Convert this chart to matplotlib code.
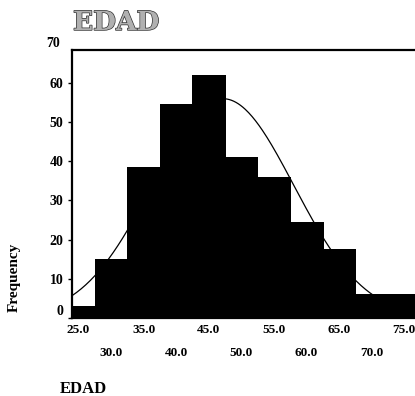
import numpy as np
import matplotlib
matplotlib.use("Agg")
import matplotlib.pyplot as plt
from matplotlib import patheffects as pe
from matplotlib.transforms import ScaledTranslation

# Data
bin_centers = [25, 30, 35, 40, 45, 50, 55, 60, 65, 70, 75]
frequencies = [3, 15, 38.5, 54.5, 62, 41, 36, 24.5, 17.5, 6, 6]
bin_width = 5
curve_mean = 47.2
curve_std = 10.85
n_total = sum(frequencies)
y_ticks = [0, 10, 20, 30, 40, 50, 60]
x_ticks_row1 = [25, 35, 45, 55, 65, 75]
x_ticks_row2 = [30, 40, 50, 60, 70]

fig = plt.figure(figsize=(4.15, 3.96), dpi=100)
ax = fig.add_axes([72/415, 78/396, 343/415, 268/396])

ax.bar(bin_centers, frequencies, width=bin_width, color="black",
       edgecolor="black", linewidth=0.6, antialiased=False, zorder=2)

xs = np.linspace(24, 76.7, 300)
peak = n_total * bin_width / (curve_std * np.sqrt(2 * np.pi))
ys = peak * np.exp(-0.5 * ((xs - curve_mean) / curve_std) ** 2)
ax.plot(xs, ys, color="black", lw=0.9, zorder=3)

ax.set_xlim(24, 76.7)
ax.set_ylim(0, 68.3)

for s in ["left", "top", "bottom"]:
    ax.spines[s].set_linewidth(1.6)
ax.spines["right"].set_visible(False)

ytick_font = dict(family="Liberation Serif", weight="bold", size=10)
xtick_font = dict(family="Liberation Serif", weight="bold", size=9.5)
ax.set_yticks(y_ticks)
ax.set_yticklabels([str(v) for v in y_ticks], **ytick_font)
ax.tick_params(axis="y", direction="out", length=3, width=1, pad=3)
ax.text(-0.035, 70, "70", transform=ax.get_yaxis_transform(),
        ha="right", va="center", clip_on=False, **ytick_font)

# the "0" label sits a little above its tick in the reference
zero_lbl = ax.yaxis.get_major_ticks()[0].label1
zero_lbl.set_transform(zero_lbl.get_transform()
                       + ScaledTranslation(0, 8/100, fig.dpi_scale_trans))

ax.set_xticks(x_ticks_row1)
ax.set_xticklabels([f"{v:.1f}" for v in x_ticks_row1], **xtick_font)
ax.set_xticks(x_ticks_row2, minor=True)
ax.set_xticklabels([f"{v:.1f}" for v in x_ticks_row2], minor=True, **xtick_font)
ax.tick_params(axis="x", which="major", length=0, pad=4)
ax.tick_params(axis="x", which="minor", length=0, pad=21)

ax.set_ylabel("Frequency", family="Liberation Serif", weight="bold", size=11)
ax.yaxis.set_label_coords(-0.15, 0.15)

fig.text(60/415, 3/396, "EDAD", family="Liberation Serif", weight="bold",
         size=12, ha="left", va="baseline")

t = fig.text(73/415, 1 - 30/396, "EDAD", family="DejaVu Serif", weight="bold",
             size=19, color="#b0b0b0", ha="left", va="baseline")
t.set_path_effects([pe.Stroke(linewidth=1.0, foreground="#333333"), pe.Normal()])

fig.savefig("out.png", dpi=100)
